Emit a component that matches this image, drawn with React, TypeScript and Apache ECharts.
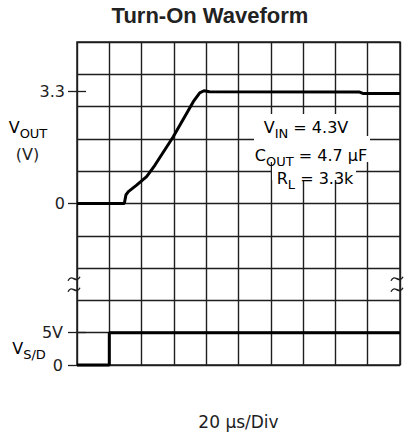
import React, { useEffect, useRef } from "react";
import * as echarts from "echarts";

// ---------- data ----------
const TITLE = "Turn-On Waveform";
const X_LABEL = "20 μs/Div";

// time in µs (20 µs per division, 10 divisions)
const TIME_US = [0, 29.3, 30.3, 31.8, 36.9, 43.1, 48.3, 59.6, 72, 76, 78.6, 82, 175, 177, 200];
const VOUT_V = [0, 0, 0.25, 0.35, 0.54, 0.79, 1.13, 1.96, 2.99, 3.25, 3.31, 3.28, 3.27, 3.23, 3.23];

const VSD_TIME_US = [0, 20, 20, 200];
const VSD_V = [0, 0, 5, 5];

const VOUT_TICKS = [0, 3.3];
const VOUT_TICK_LABELS = ["0", "3.3"];
const VOUT_INNER_TICKS = [3.3];
const VSD_TICKS = [0, 5];
const VSD_TICK_LABELS = ["0", "5V"];
const VSD_INNER_TICKS = [5];

const NOTE_VIN = ["V", "IN", " = 4.3V"];
const NOTE_COUT = ["C", "OUT", " = 4.7 μF"];
const NOTE_RL = ["R", "L", " = 3.3k"];

// ---------- scales ----------
const VOUT_PER_DIV = 3.3 / 3.48; // 3.3 V sits 3.48 divisions above the 0 line
const VOUT_MIN = -5 * VOUT_PER_DIV;
const VOUT_MAX = 5 * VOUT_PER_DIV;

const FONT = "DejaVu Sans";
const INK = "#1e1e1e";

export default function App() {
  const ref = useRef<HTMLDivElement>(null);

  useEffect(() => {
    document.body.style.margin = "0";
    const chart = echarts.init(ref.current!, undefined, { renderer: "svg" });

    const gridLine = { color: INK, width: 1.4 };
    const label = { fontFamily: FONT, fontSize: 16, color: INK };

    const rich = {
      m: { fontFamily: FONT, fontSize: 16, lineHeight: 16, verticalAlign: "top", color: INK },
      s: { fontFamily: FONT, fontSize: 13, lineHeight: 14, padding: [8, 0, 0, 0], verticalAlign: "top", color: INK },
    };
    const subText = (parts: string[]) =>
      `{m|${parts[0]}}{s|${parts[1]}}` + (parts[2] ? `{m|${parts[2]}}` : "");

    chart.setOption({
      animation: false,
      grid: {
        left: 77,
        top: 42,
        width: 323,
        height: 323,
        show: true,
        borderColor: INK,
        borderWidth: 1.5,
        backgroundColor: "transparent",
        outerBoundsMode: "none",
      },
      xAxis: {
        type: "value",
        min: 0,
        max: 200,
        interval: 20,
        axisLine: { show: false },
        axisTick: { show: false },
        axisLabel: { show: false },
        splitLine: { show: true, lineStyle: gridLine },
        name: X_LABEL,
        nameLocation: "middle",
        nameGap: 48,
        nameTextStyle: { fontFamily: FONT, fontSize: 17, color: INK },
      },
      yAxis: [
        {
          type: "value",
          min: VOUT_MIN,
          max: VOUT_MAX,
          position: "left",
          axisLine: { show: false },
          splitLine: { show: false },
          axisTick: { show: true, customValues: VOUT_TICKS, length: 9, lineStyle: { color: INK, width: 1.3 } },
          axisLabel: {
            show: true,
            customValues: VOUT_TICKS,
            margin: 12,
            formatter: (v: number) => VOUT_TICK_LABELS[VOUT_TICKS.indexOf(v)] ?? "",
            ...label,
          },
        },
        {
          type: "value",
          min: 0,
          max: 50,
          position: "left",
          axisLine: { show: false },
          splitLine: { show: false },
          axisTick: { show: true, customValues: VSD_TICKS, length: 9, lineStyle: { color: INK, width: 1.3 } },
          axisLabel: {
            show: true,
            customValues: VSD_TICKS,
            margin: 14,
            formatter: (v: number) => VSD_TICK_LABELS[VSD_TICKS.indexOf(v)] ?? "",
            ...label,
          },
        },
        {
          type: "value",
          min: VOUT_MIN,
          max: VOUT_MAX,
          position: "left",
          axisLine: { show: false },
          splitLine: { show: false },
          axisLabel: { show: false },
          axisTick: { show: true, inside: true, customValues: VOUT_INNER_TICKS, length: 9, lineStyle: { color: INK, width: 1.3 } },
        },
        {
          type: "value",
          min: 0,
          max: 50,
          position: "left",
          axisLine: { show: false },
          splitLine: { show: false },
          axisLabel: { show: false },
          axisTick: { show: true, inside: true, customValues: VSD_INNER_TICKS, length: 9, lineStyle: { color: INK, width: 1.3 } },
        },
        {
          // division grid: 10 divisions of 5 V on the shutdown scale
          type: "value",
          min: 0,
          max: 50,
          interval: 5,
          position: "left",
          axisLine: { show: false },
          axisTick: { show: false },
          axisLabel: { show: false },
          splitLine: { show: true, lineStyle: gridLine },
        },
      ],
      series: [
        {
          type: "line",
          name: "VOUT",
          yAxisIndex: 0,
          data: TIME_US.map((t, i) => [t, VOUT_V[i]]),
          showSymbol: false,
          clip: false,
          lineStyle: { color: "#000", width: 3 },
          z: 5,
        },
        {
          type: "line",
          name: "VS/D",
          yAxisIndex: 1,
          data: VSD_TIME_US.map((t, i) => [t, VSD_V[i]]),
          showSymbol: false,
          clip: false,
          lineStyle: { color: "#000", width: 3 },
          z: 5,
        },
      ],
    });

    // break marks at the middle of the 3rd division from the bottom
    const left = chart.convertToPixel({ xAxisIndex: 0, yAxisIndex: 1 }, [0, 12.5]) as number[];
    const right = chart.convertToPixel({ xAxisIndex: 0, yAxisIndex: 1 }, [200, 12.5]) as number[];
    const squiggle = (cx: number, cy: number) => ({
      type: "bezierCurve",
      z: 110,
      shape: { x1: cx - 6, y1: cy + 2, cpx1: cx - 2, cpy1: cy - 6, cpx2: cx + 2, cpy2: cy + 6, x2: cx + 6, y2: cy - 2 },
      style: { stroke: INK, lineWidth: 1.4, fill: null },
    });
    const breaks = [left, right].flatMap((p) => [squiggle(p[0] - 3, p[1] - 5.5), squiggle(p[0] - 3, p[1] + 5.5)]);

    // white boxes that interrupt the grid behind the condition notes
    const mask = (x: number, y: number, w: number, h: number) => ({
      type: "rect",
      z: 90,
      shape: { x, y, width: w, height: h },
      style: { fill: "#fff" },
    });
    const note = (parts: string[], x: number, y: number) => ({
      type: "text",
      x,
      y,
      z: 100,
      style: {
        text: subText(parts),
        rich,
        align: "center",
        verticalAlign: "middle",
      },
    });

    chart.setOption({
      graphic: [
        {
          type: "text",
          x: 210,
          y: 15.5,
          z: 100,
          style: {
            text: TITLE,
            fontFamily: "Liberation Sans",
            fontWeight: "bold",
            fontSize: 22,
            fill: "#222",
            align: "center",
            verticalAlign: "middle",
          },
        },
        {
          type: "text",
          x: 28,
          y: 127,
          z: 100,
          style: { text: subText(["V", "OUT"]), rich, align: "center", verticalAlign: "middle" },
        },
        {
          type: "text",
          x: 27.5,
          y: 154,
          z: 100,
          style: { text: "(V)", fontFamily: FONT, fontSize: 16, fill: INK, align: "center", verticalAlign: "middle" },
        },
        {
          type: "text",
          x: 29,
          y: 348,
          z: 100,
          style: { text: subText(["V", "S/D"]), rich, align: "center", verticalAlign: "middle" },
        },
        mask(261, 114, 92, 22),
        mask(254, 136, 116, 26),
        mask(272, 162, 84, 18),
        note(NOTE_VIN, 306, 127),
        note(NOTE_COUT, 311, 155),
        note(NOTE_RL, 315, 178),
        ...breaks,
      ],
    });

    return () => chart.dispose();
  }, []);

  return <div ref={ref} style={{ width: 411, height: 440 }} />;
}
